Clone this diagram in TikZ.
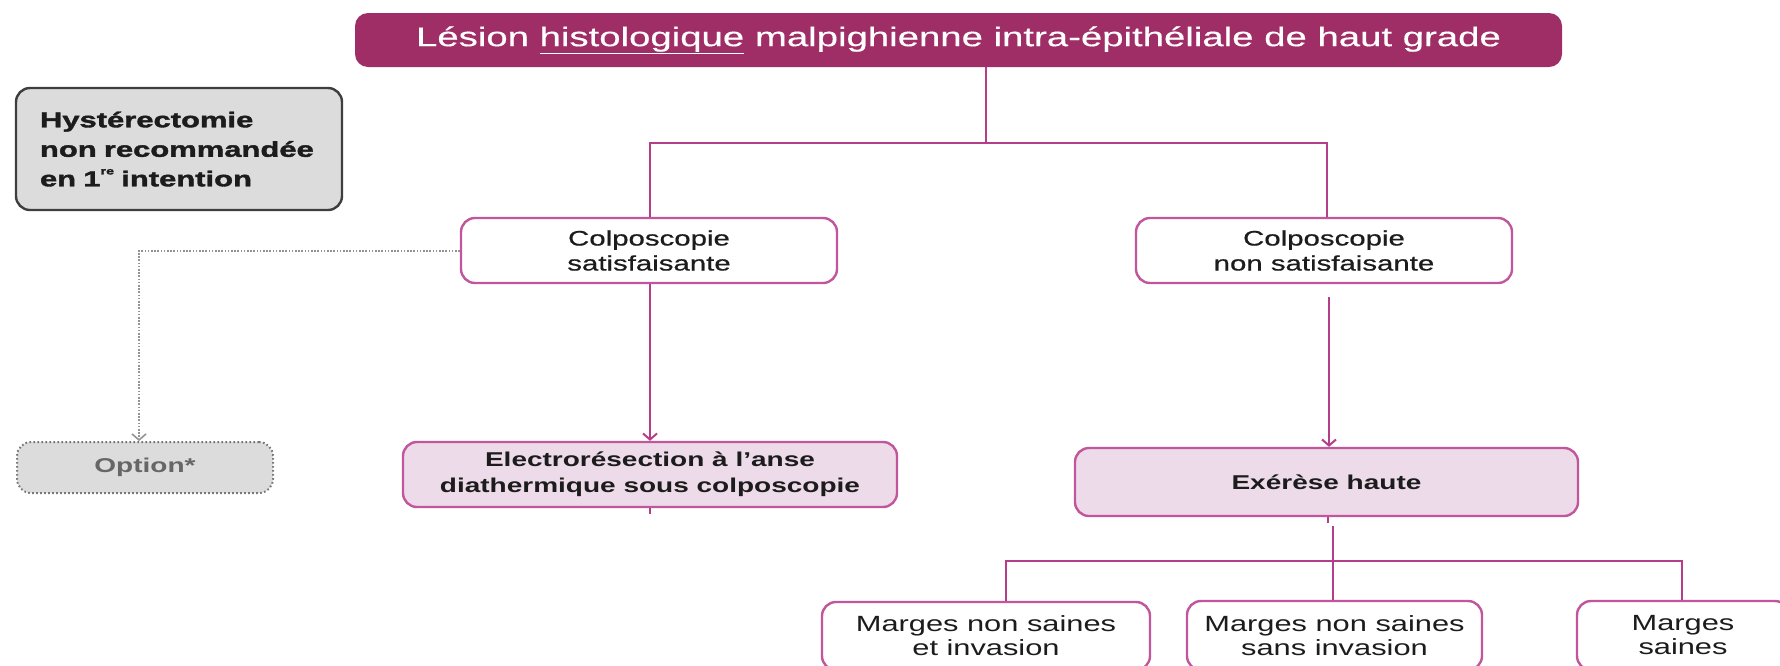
\documentclass[tikz,border=0pt]{standalone}
\usepackage{fontspec}
\setmainfont{Liberation Sans}[FakeStretch=1.4]
\newfontfamily\bodyfont{Liberation Sans}[FakeStretch=1.4,FakeBold=0.6]
\newfontfamily\headfont{Liberation Sans}[FakeStretch=1.42,FakeBold=0.4]
\newfontfamily\heavyfont{Liberation Sans Bold}[FakeStretch=1.44,FakeBold=1.8]
\newfontfamily\optfont{Liberation Sans Bold}[FakeStretch=1.4]
\usetikzlibrary{arrows.meta}

\definecolor{plum}{RGB}{160,46,102}
\definecolor{orchid}{RGB}{194,86,156}
\definecolor{wire}{RGB}{180,62,138}
\definecolor{blush}{RGB}{237,219,234}
\definecolor{ash}{RGB}{220,220,220}
\definecolor{ink}{RGB}{28,28,28}
\definecolor{slate}{RGB}{120,120,120}

\begin{document}
\begin{tikzpicture}[x=1pt,y=-1pt,
  base/.style={rounded corners=14pt, align=center, inner sep=0pt, text=ink,
    font=\bodyfont\fontsize{21}{25}\selectfont},
  whitebox/.style={base, draw=orchid, line width=2.4pt, fill=white},
  pinkbox/.style={base, draw=orchid, line width=2.4pt, fill=blush,
    font=\fontsize{20}{26}\selectfont\bfseries},
  headbox/.style={base, fill=plum, text=white, rounded corners=13pt,
    font=\headfont\fontsize{27}{30}\selectfont},
  notebox/.style={base, draw=ink!85, line width=2.4pt, fill=ash, align=left,
    inner xsep=24pt, font=\heavyfont\fontsize{21.5}{29.5}\selectfont},
  optbox/.style={base, draw=slate, line width=2pt, fill=ash, text=slate!85!black,
    dash pattern=on 1.6pt off 2.4pt, font=\optfont\fontsize{20}{25}\selectfont},
  margebox/.style={whitebox, font=\fontsize{22}{24}\selectfont},
  conn/.style={draw=wire, line width=2.6pt},
  flow/.style={conn, -{Straight Barb[length=6pt,width=14pt,line width=2pt]}},
  hint/.style={draw=slate!80, line width=2pt, dash pattern=on 1.6pt off 1.6pt,
    -{Straight Barb[length=6pt,width=14pt,line width=1.6pt]}}
]
\useasboundingbox (0,0) rectangle (1780,665);
\clip (0,0) rectangle (1780,665);

% boxes
\node[headbox, minimum width=1207pt, minimum height=54pt] (top) at (958.5,40)
  {Lésion \underline{histologique} malpighienne intra-épithéliale de haut grade};

\node[notebox, text width=278pt, minimum height=122pt] (hyst) at (179,149)
  {Hystérectomie\\non recommandée\\en 1\raisebox{0.55em}{\fontsize{10}{10}\selectfont re} intention};

\node[whitebox, minimum width=376pt, minimum height=65pt] (csat) at (649,250.5)
  {Colposcopie\\satisfaisante};
\node[whitebox, minimum width=376pt, minimum height=65pt] (cnon) at (1324,250.5)
  {Colposcopie\\non satisfaisante};

\node[optbox, minimum width=256pt, minimum height=51pt] (opt) at (145,467.5)
  {Option*};

\node[pinkbox, minimum width=494pt, minimum height=65pt] (elec) at (650,474.5)
  {Electrorésection à l'anse\\diathermique sous colposcopie};
\node[pinkbox, minimum width=503pt, minimum height=68pt] (exe) at (1326.5,482)
  {Exérèse haute};

\node[margebox, minimum width=328pt, minimum height=68pt] (m1) at (986,636)
  {Marges non saines\\et invasion};
\node[margebox, minimum width=295pt, minimum height=69pt] (m2) at (1334.5,635.5)
  {Marges non saines\\sans invasion};
\node[margebox, minimum width=212pt, minimum height=69pt] (m3) at (1683,635.5)
  {Marges\\saines};

% junction points
\coordinate (tj) at (986,143);
\coordinate (ej) at (1333,561);
\coordinate (es) at (1333,526);
\coordinate (cs) at (1329,297);

% first split
\draw[conn] (top.south -| tj) -- (tj);
\draw[conn] ([xshift=1pt]csat.north) -- ([xshift=1pt]csat.north |- tj)
  -- ([xshift=3pt]cnon.north |- tj) -- ([xshift=3pt]cnon.north);

% treatment arrows
\draw[flow] ([xshift=1pt]csat.south) -- ([xshift=1pt]csat.south |- elec.north);
\draw[conn] (elec.south) -- ++(0,6);
\draw[flow] (cs) -- (cs |- exe.north);

% dotted alternative
\draw[hint] (csat.west) -- (csat.west -| 139,0) -- ([xshift=-6pt]opt.north);

% margin outcomes
\draw[conn] ([xshift=1.5pt]exe.south) -- ++(0,6);
\draw[conn] (es) -- (es |- m2.north);
\draw[conn] ([xshift=20pt]m1.north) -- ([xshift=20pt]m1.north |- ej)
  -- ([xshift=-1pt]m3.north |- ej) -- ([xshift=-1pt]m3.north);
\end{tikzpicture}
\end{document}
